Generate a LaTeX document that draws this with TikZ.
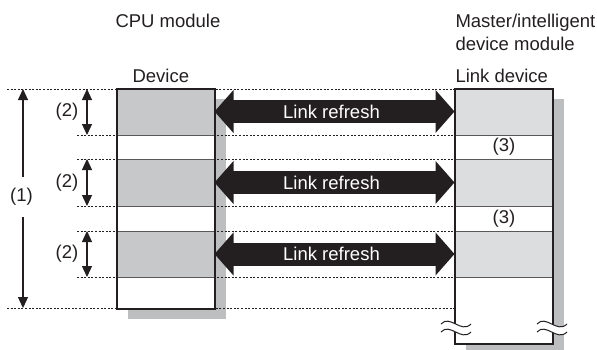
\documentclass[tikz,border=0pt]{standalone}
\usepackage{fontspec}
\setmainfont{Liberation Sans}
\usetikzlibrary{arrows.meta,positioning,calc}
\definecolor{inkblack}{HTML}{231F20}
\definecolor{cpugray}{HTML}{C7C8CA}
\definecolor{linkgray}{HTML}{DCDDDE}
\definecolor{shadowgray}{HTML}{BCBEC0}
\tikzset{
    >={Triangle[length=11pt,width=10pt]},
    every picture/.style={line width=1pt},
    plain/.style={inner sep=0pt,font=\fontsize{18.5}{22}\selectfont,text=inkblack},
    guide/.style={draw=inkblack,line width=0.8pt,dash pattern=on 2pt off 1.6pt},
    boxarea/.style={minimum width=97pt,inner sep=0pt,draw=none},
    frame/.style={draw=inkblack,line width=2pt},
    divider/.style={draw=inkblack!75,line width=0.9pt},
    dimarrow/.style={draw=inkblack,line width=1.2pt},
    refresh/.style={draw=inkblack,line width=23pt,
        {Triangle[length=19pt,width=42pt]}-{Triangle[length=19pt,width=42pt]}}
}

\begin{document}
\begin{tikzpicture}[x=1pt,y=-1pt]
    \useasboundingbox (0,0) rectangle (597,349);

    % Row boundaries and guide starts
    \coordinate (r0) at (0,89);
    \coordinate (r1) at (0,135);
    \coordinate (r2) at (0,159);
    \coordinate (r3) at (0,206);
    \coordinate (r4) at (0,231);
    \coordinate (r5) at (0,277);
    \coordinate (r6) at (0,308);
    \coordinate (gl) at (7,0);
    \coordinate (gs) at (77,0);
    \coordinate (d1) at (23,0);
    \coordinate (d2) at (87,0);

    % Boxes (placed first, painted later)
    \node[boxarea,minimum height=219pt] (dev) at (165.5,198.5) {};
    \node[boxarea,minimum height=254pt] (lnk) at (503.5,216) {};

    % Shadows
    \fill[shadowgray] ([shift={(11,10)}]dev.north west) rectangle ([shift={(11,10)}]dev.south east);
    \fill[shadowgray] ([shift={(11,10)}]lnk.north west) rectangle ([shift={(11,10)}]lnk.south east);

    % Dotted guides
    \draw[guide] (r0 -| gl) -- (r0 -| lnk.west);
    \draw[guide] (r1 -| gs) -- (r1 -| lnk.west);
    \draw[guide] (r2 -| gs) -- (r2 -| lnk.west);
    \draw[guide] (r3 -| gs) -- (r3 -| lnk.west);
    \draw[guide] (r4 -| gs) -- (r4 -| lnk.west);
    \draw[guide] (r5 -| gs) -- (r5 -| lnk.west);
    \draw[guide] (r6 -| gl) -- (r6 -| lnk.west);

    % Device (CPU side)
    \fill[white] (dev.north west) rectangle (dev.south east);
    \fill[cpugray] (r0 -| dev.west) rectangle (r1 -| dev.east);
    \fill[cpugray] (r2 -| dev.west) rectangle (r3 -| dev.east);
    \fill[cpugray] (r4 -| dev.west) rectangle (r5 -| dev.east);
    \draw[divider] (r1 -| dev.west) -- (r1 -| dev.east);
    \draw[divider] (r2 -| dev.west) -- (r2 -| dev.east);
    \draw[divider] (r3 -| dev.west) -- (r3 -| dev.east);
    \draw[divider] (r4 -| dev.west) -- (r4 -| dev.east);
    \draw[divider] (r5 -| dev.west) -- (r5 -| dev.east);
    \draw[frame] (dev.north west) rectangle (dev.south east);

    % Link device
    \fill[white] (lnk.north west) rectangle (lnk.south east);
    \fill[linkgray] (r0 -| lnk.west) rectangle (r1 -| lnk.east);
    \fill[linkgray] (r2 -| lnk.west) rectangle (r3 -| lnk.east);
    \fill[linkgray] (r4 -| lnk.west) rectangle (r5 -| lnk.east);
    \draw[divider] (r1 -| lnk.west) -- (r1 -| lnk.east);
    \draw[divider] (r2 -| lnk.west) -- (r2 -| lnk.east);
    \draw[divider] (r3 -| lnk.west) -- (r3 -| lnk.east);
    \draw[divider] (r4 -| lnk.west) -- (r4 -| lnk.east);
    \draw[divider] (r5 -| lnk.west) -- (r5 -| lnk.east);
    \draw[frame] (lnk.north west) rectangle (lnk.south east);

    % Break marks
    \fill[white] (441,324) .. controls (450,314) and (461,334) .. (471,324)
        -- (471,332) .. controls (461,342) and (450,322) .. (441,332) -- cycle;
    \fill[white] (537,324) .. controls (546,314) and (557,334) .. (567,324)
        -- (567,332) .. controls (557,342) and (546,322) .. (537,332) -- cycle;
    \draw[inkblack] (441,324) .. controls (450,314) and (461,334) .. (471,324);
    \draw[inkblack] (441,332) .. controls (450,322) and (461,342) .. (471,332);
    \draw[inkblack] (537,324) .. controls (546,314) and (557,334) .. (567,324);
    \draw[inkblack] (537,332) .. controls (546,322) and (557,342) .. (567,332);

    % Link refresh arrows
    \coordinate (m1) at (0,111.5);
    \coordinate (m2) at (0,182.5);
    \coordinate (m3) at (0,254);
    \draw[refresh] (m1 -| dev.east) -- node[plain,text=white,xshift=-3pt] (t1) {Link refresh} (m1 -| lnk.west);
    \draw[refresh] (m2 -| dev.east) -- node[plain,text=white,xshift=-3pt] (t2) {Link refresh} (m2 -| lnk.west);
    \draw[refresh] (m3 -| dev.east) -- node[plain,text=white,xshift=-3pt] (t3) {Link refresh} (m3 -| lnk.west);

    % Sizes
    \node[plain,inner ysep=11pt] (n1) at (21.5,197) {(1)};
    \draw[dimarrow,<-] (r0 -| d1) -- (n1.north -| d1);
    \draw[dimarrow,->] (n1.south -| d1) -- (r6 -| d1);
    \node[plain] (n2a) at (67,112) {(2)};
    \node[plain] (n2b) at (67,182.5) {(2)};
    \node[plain] (n2c) at (67,254) {(2)};
    \draw[dimarrow,<->] (r0 -| d2) -- (r1 -| d2);
    \draw[dimarrow,<->] (r2 -| d2) -- (r3 -| d2);
    \draw[dimarrow,<->] (r4 -| d2) -- (r5 -| d2);
    \node[plain] (n3a) at (504,147) {(3)};
    \node[plain] (n3b) at (504,218.5) {(3)};

    % Headings
    \node[plain,anchor=base west] (cpu) at (115,27) {CPU module};
    \node[plain,anchor=base west] (mst) at (455,27) {Master/intelligent};
    \node[plain,anchor=base west] (mst2) at ([yshift=-23pt]mst.base west) {device module};
    \node[plain,anchor=base west] (devlbl) at (132,82) {Device};
    \node[plain,anchor=base west] (lnklbl) at (455,82) {Link device};
\end{tikzpicture}
\end{document}
